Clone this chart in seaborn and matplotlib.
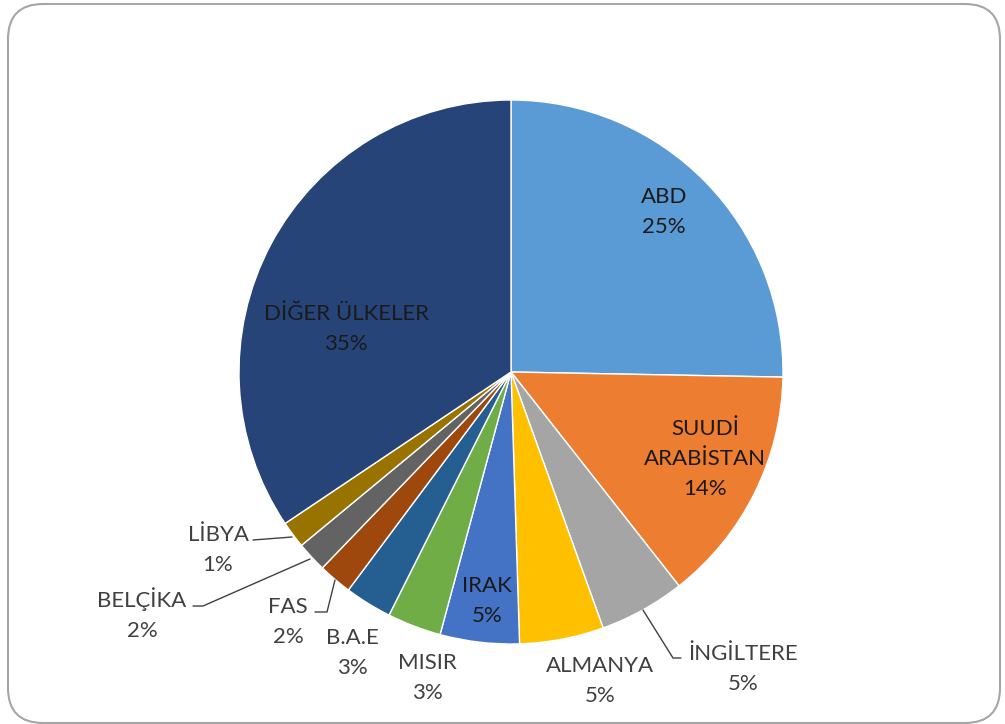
import matplotlib
matplotlib.use("Agg")
import matplotlib.pyplot as plt
from matplotlib.patches import FancyBboxPatch
import numpy as np
import seaborn as sns

countries = ["ABD", "SUUDİ\nARABİSTAN", "İNGİLTERE", "ALMANYA", "IRAK", "MISIR",
             "B.A.E", "FAS", "BELÇİKA", "LİBYA", "DİĞER ÜLKELER"]
shares = [25.3, 14.1, 5.1, 5.0, 4.7, 3.2, 2.8, 2.0, 1.8, 1.6, 34.4]
pct_labels = ["25%", "14%", "5%", "5%", "5%", "3%", "3%", "2%", "2%", "1%", "35%"]
colors = ["#5B9BD5", "#ED7D31", "#A5A5A5", "#FFC000", "#4472C4", "#70AD47",
          "#255E91", "#9E480E", "#636363", "#997300", "#264478"]

sns.set_theme(style="white")
plt.rcParams["font.family"] = ["Lato", "DejaVu Sans"]

W, H = 1005, 724
fig = plt.figure(figsize=(W / 100, H / 100), dpi=100)

# rounded chart frame, drawn behind the pie
frame = FancyBboxPatch((8 / W, 1 / H), 992 / W, 719 / H,
                       boxstyle="round,pad=0,rounding_size=0.035",
                       transform=fig.transFigure, facecolor="none",
                       edgecolor="#a6a6a6", linewidth=1.5, mutation_aspect=W / H,
                       zorder=-5)
fig.patches.append(frame)

cx, cy, r = 511, 372, 272
ax = fig.add_axes([(cx - r) / W, (H - cy - r) / H, 2 * r / W, 2 * r / H])
ax.patch.set_alpha(0)
ax.pie(shares, colors=colors, startangle=90, counterclock=False,
       wedgeprops=dict(linewidth=1, edgecolor="white"), radius=1)
ax.set_xlim(-1, 1)
ax.set_ylim(-1, 1)
ax.set_axis_off()


def px(x, y):
    return (x - cx) / r, (cy - y) / r


# label centres in pixel space (layout only)
label_pos = [(664, 212), (705, 459), (743, 669), (600, 681), (487, 601), (427, 678),
             (352, 653), (288, 622), (142, 614), (218, 550), (346, 329)]
inside = {0, 1, 4, 10}
for i, (name, pct) in enumerate(zip(countries, pct_labels)):
    x, y = px(*label_pos[i])
    col = "#1a1a1a" if i in inside else "#404040"
    ax.text(x, y, f"{name}\n{pct}", ha="center", va="center", fontsize=16,
            color=col, linespacing=1.65, clip_on=False)

# leader lines
leaders = [
    [(643, 610), (673, 658), (681, 658)],
    [(335, 580), (327, 612), (315, 612)],
    [(310, 559), (203, 606), (193, 606)],
    [(292, 537), (253, 540)],
]
for pts in leaders:
    xy = np.array([px(*p) for p in pts])
    ax.plot(xy[:, 0], xy[:, 1], color="#404040", linewidth=1, clip_on=False)

fig.savefig("out.png", dpi=100)
